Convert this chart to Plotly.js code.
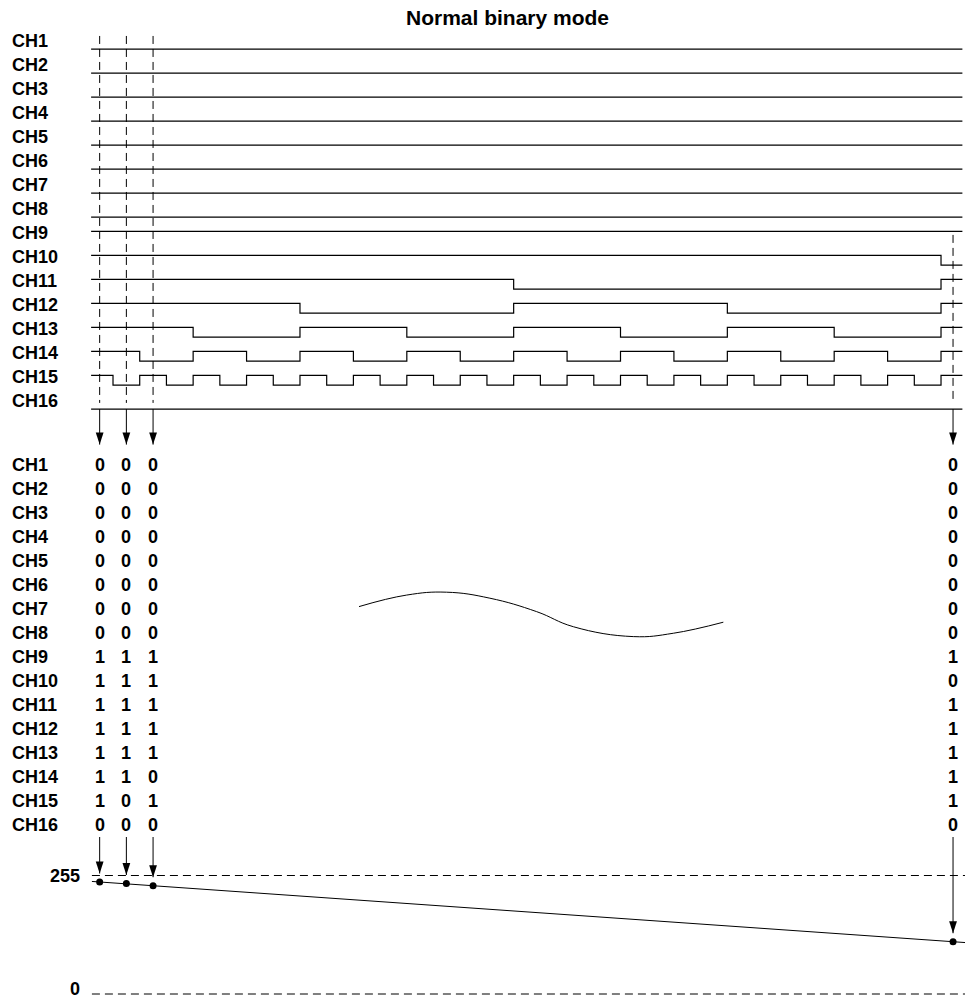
<!DOCTYPE html>
<html><head><meta charset="utf-8">
<script src="https://cdn.plot.ly/plotly-3.0.1.min.js"></script>
<style>html,body{margin:0;padding:0;background:#fff}#chart{width:965px;height:1000px}</style>
</head><body><div id="chart"></div>
<script>
// ---------------- data ----------------
const channels = ['CH1','CH2','CH3','CH4','CH5','CH6','CH7','CH8','CH9','CH10','CH11','CH12','CH13','CH14','CH15','CH16'];
// logic level of each channel in clock intervals 0..32 (transitions at t = 1..32)
const levels = [
  '000000000000000000000000000000000',
  '000000000000000000000000000000000',
  '000000000000000000000000000000000',
  '000000000000000000000000000000000',
  '000000000000000000000000000000000',
  '000000000000000000000000000000000',
  '000000000000000000000000000000000',
  '000000000000000000000000000000000',
  '111111111111111111111111111111111',
  '111111111111111111111111111111110',
  '111111111111111100000000000000001',
  '111111110000000011111111000000001',
  '111100001111000011110000111100001',
  '110011001100110011001100110011001',
  '101010101010101010101010101010101',
  '000000000000000000000000000000000'
];
const sampleT = [0.5, 1.5, 2.5, 32.45];          // sampling instants
const analogSampleV = [241.0, 237.8, 233.0, 112.5]; // converted values (0..255 scale)
const analogLineT = [0.21, 32.9];
const analogLineV = [242.2, 110.7];
const scaleTicks = [255, 0];
const scaleTickText = ['255', '0'];
// break mark (omitted samples) in time / table-row units
const breakT = [10.21, 11.99, 13.49, 15.11, 16.86, 18.24, 20.48, 21.98, 23.85];
const breakRow = [5.90, 5.42, 5.30, 5.55, 6.11, 6.74, 7.15, 7.01, 6.55];
const titleText = 'Normal binary mode';

// ---------------- geometry ----------------
const W = 965, H = 1000;
const X0 = 86.3, DX = 26.71;          // pixel of t=0, pixels per clock
const WAVE_ROW0 = 41, ROW = 24, TABLE_ROW0 = 465;
const A255 = 875.5, A0 = 994;
const aScale = (A0 - A255) / 255;
const HIGH = -0.07, LOW = 0.34;
const T_START = 0.18, T_END = 32.8;
const FONT = 'Liberation Sans, Arial, Helvetica, sans-serif';
const tf = {family: FONT, size: 18, color: '#000', weight: 'bold'};

const traces = [];
const base = {hoverinfo: 'skip', showlegend: false};

// waveforms
channels.forEach((ch, k) => {
  const lv = levels[k].split('').map(Number);
  const xs = [T_START], ys = [];
  lv.forEach((v, i) => { if (i > 0) xs.push(i); ys.push(k + (v ? HIGH : LOW)); });
  xs.push(T_END); ys.push(ys[ys.length - 1]);
  traces.push(Object.assign({x: xs, y: ys, mode: 'lines', yaxis: 'y',
    line: {shape: 'hv', color: '#000', width: 1.2}}, base));
});

// sampling guides (dashed)
{
  const xs = [], ys = [];
  sampleT.forEach((t, i) => {
    const top = i < 3 ? -0.21 : channels.indexOf('CH9') + 0.08;
    xs.push(t, t, null); ys.push(top, channels.length - 1 + 0.08, null);
  });
  traces.push(Object.assign({x: xs, y: ys, mode: 'lines', yaxis: 'y',
    line: {color: '#000', width: 1, dash: '8px,5px'}}, base));
}

// arrows into table
{
  const xs = [], ys = [];
  sampleT.forEach(t => { xs.push(t, t, null); ys.push(-2.33, -0.85, null); });
  traces.push(Object.assign({x: xs, y: ys, mode: 'lines', yaxis: 'y2',
    line: {color: '#000', width: 1}}, base));
  traces.push(Object.assign({x: sampleT, y: sampleT.map(() => -0.85), mode: 'markers', yaxis: 'y2',
    marker: {symbol: 'arrow', angle: 180, size: 12.6, color: '#000', line: {width: 0}}}, base));
}

// break mark
traces.push(Object.assign({x: breakT, y: breakRow, mode: 'lines', yaxis: 'y2',
  line: {shape: 'spline', smoothing: 1.2, color: '#000', width: 1}}, base));

// analog scale reference lines
scaleTicks.forEach(v => {
  traces.push(Object.assign({x: [analogLineT[0], T_END + 0.2], y: [v, v], mode: 'lines', yaxis: 'y3',
    line: {color: '#000', width: 1, dash: '8px,5px'}}, base));
});

// arrows to analog values
{
  const tipOff = 8.5 / aScale, topV = (A0 - 837) / aScale;
  const xs = [], ys = [];
  sampleT.forEach((t, i) => { xs.push(t, t, null); ys.push(topV, analogSampleV[i] + tipOff, null); });
  traces.push(Object.assign({x: xs, y: ys, mode: 'lines', yaxis: 'y3',
    line: {color: '#000', width: 1}}, base));
  traces.push(Object.assign({x: sampleT, y: analogSampleV.map(v => v + tipOff), mode: 'markers', yaxis: 'y3',
    marker: {symbol: 'arrow', angle: 180, size: 12.6, color: '#000', line: {width: 0}}}, base));
}

// analog line + sample dots
traces.push(Object.assign({x: analogLineT, y: analogLineV, mode: 'lines', yaxis: 'y3',
  line: {color: '#000', width: 1}}, base));
traces.push(Object.assign({x: sampleT, y: analogSampleV, mode: 'markers', yaxis: 'y3',
  marker: {symbol: 'circle', size: 7, color: '#000', line: {width: 0}}}, base));

// ---------------- annotations ----------------
const ann = [];
channels.forEach((ch, k) => {
  ann.push({text: ch, xref: 'paper', x: 10 / W, xanchor: 'left', yref: 'y', y: k, yanchor: 'middle', showarrow: false, font: tf});
  ann.push({text: ch, xref: 'paper', x: 10 / W, xanchor: 'left', yref: 'y2', y: k, yanchor: 'middle', showarrow: false, font: tf});
  sampleT.forEach(t => {
    const idx = Math.floor(t);
    ann.push({text: levels[k][idx], xref: 'x', x: t, xanchor: 'center', yref: 'y2', y: k, yanchor: 'middle', showarrow: false, font: tf});
  });
});
scaleTicks.forEach((v, i) => {
  ann.push({text: scaleTickText[i], xref: 'paper', x: 81 / W, xanchor: 'right', yref: 'y3', y: v, yanchor: 'middle',
    yshift: v === 0 ? 5 : 0, borderpad: 0, showarrow: false, font: tf});
});

const layout = {
  width: W, height: H,
  margin: {l: 0, r: 0, t: 0, b: 0, pad: 0},
  paper_bgcolor: '#fff', plot_bgcolor: '#fff',
  showlegend: false,
  title: {text: titleText, xref: 'container', yref: 'container', x: 507.5 / W, xanchor: 'center', y: 1 - 18 / H, yanchor: 'middle',
    font: {family: FONT, size: 21, color: '#000', weight: 'bold'}},
  xaxis: {range: [-X0 / DX, (W - X0) / DX], visible: false, fixedrange: true},
  yaxis: {range: [(H - WAVE_ROW0) / ROW, -WAVE_ROW0 / ROW], visible: false, fixedrange: true},
  yaxis2: {range: [(H - TABLE_ROW0) / ROW, -TABLE_ROW0 / ROW], visible: false, overlaying: 'y', fixedrange: true},
  yaxis3: {range: [(A0 - H) / aScale, A0 / aScale], visible: false, overlaying: 'y', fixedrange: true},
  annotations: ann
};

Plotly.newPlot('chart', traces, layout, {staticPlot: true, displayModeBar: false});
</script></body></html>
